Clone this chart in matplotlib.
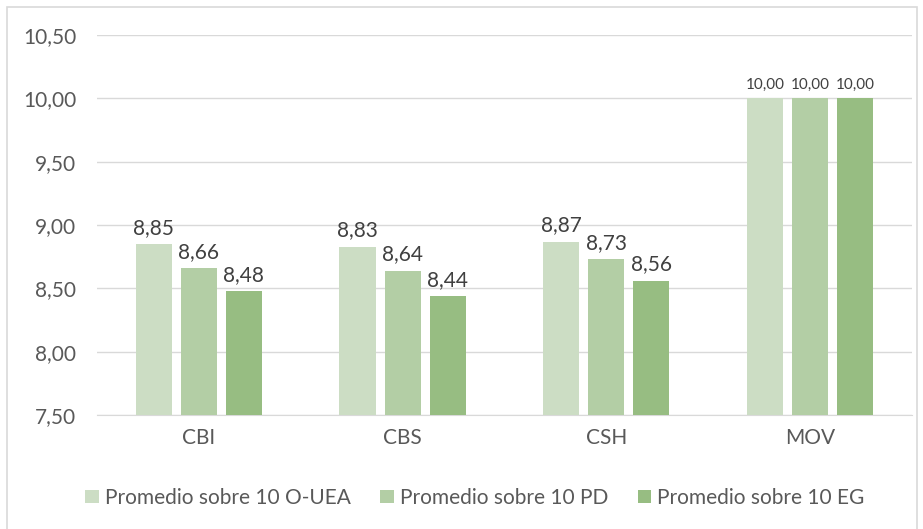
import matplotlib
matplotlib.use("Agg")
import matplotlib.pyplot as plt
from matplotlib.patches import Rectangle
import numpy as np

categories = ["CBI", "CBS", "CSH", "MOV"]
series_names = ["Promedio sobre 10 O-UEA", "Promedio sobre 10 PD", "Promedio sobre 10 EG"]
o_uea = [8.85, 8.83, 8.87, 10.00]
pd_vals = [8.66, 8.64, 8.73, 10.00]
eg = [8.48, 8.44, 8.56, 10.00]
colors = ["#CCDDC4", "#B3CEA5", "#97BD82"]

plt.rcParams['font.family'] = ['Lato', 'DejaVu Sans']

fig = plt.figure(figsize=(9.23, 5.29), dpi=100)
ax = fig.add_axes([0.105, 0.2155, 0.883, 0.718])

# outer chart border (bottom edge runs off the image like in the source)
fig.patches.append(Rectangle((7 / 923, -10 / 529), 910 / 923, 532 / 529, transform=fig.transFigure,
                             fill=False, edgecolor="#D9D9D9", linewidth=1.2))

x = np.arange(len(categories))
width = 0.177
step = 0.221

for i, (vals, name, col) in enumerate(zip([o_uea, pd_vals, eg], series_names, colors)):
    bars = ax.bar(x + (i - 1) * step, vals, width=width, color=col, label=name, zorder=3)
    for b, v in zip(bars, vals):
        fs = 11 if v >= 10 else 15
        ax.text(b.get_x() + b.get_width() / 2, v + 0.05, f"{v:.2f}".replace(".", ","),
                ha="center", va="bottom", fontsize=fs, color="#404040")

ax.set_ylim(7.5, 10.5)
ax.set_xlim(-0.5, 3.5)
yt = np.arange(7.5, 10.51, 0.5)
ax.set_yticks(yt)
ax.set_yticklabels([f"{t:.2f}".replace(".", ",") for t in yt])
ax.set_xticks(x)
ax.set_xticklabels(categories)
ax.tick_params(axis="both", length=0, labelsize=15, labelcolor="#595959")
ax.tick_params(axis="y", pad=15)
ax.tick_params(axis="x", pad=9)
ax.grid(axis="y", color="#D9D9D9", linewidth=1, zorder=0)
for s in ["top", "right", "left"]:
    ax.spines[s].set_visible(False)
ax.spines["bottom"].set_color("#D9D9D9")

ax.legend(loc="center", bbox_to_anchor=(0.464, -0.218), ncol=3, frameon=False,
          fontsize=15, handlelength=0.65, handleheight=0.65, handletextpad=0.3,
          columnspacing=1.4, labelcolor="#595959")

fig.savefig("out.png", dpi=100)
